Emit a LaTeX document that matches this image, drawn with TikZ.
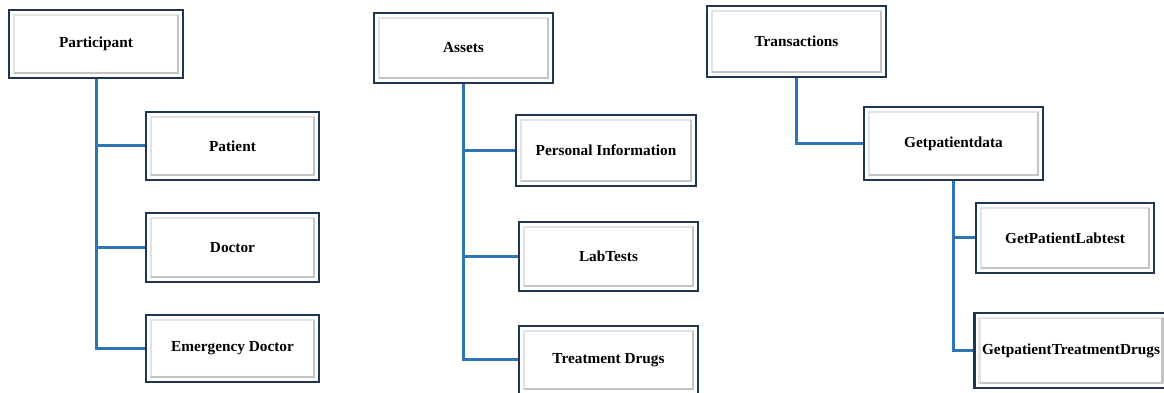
\documentclass[tikz,border=0pt]{standalone}
\usepackage{fontspec}
\setmainfont{Liberation Serif}
\definecolor{navy}{HTML}{1F3550}
\definecolor{linkblue}{HTML}{2E75B6}
\definecolor{bevel}{HTML}{E2E2E2}
\definecolor{beveldark}{HTML}{C4C4C4}
\tikzset{
  box/.style={draw=navy, line width=2.6pt, fill=white, inner sep=0pt,
    font=\fontsize{15.3}{18}\selectfont\bfseries, text=black,
    path picture={
      \draw[bevel, line width=2.4pt]
        ([shift={(5pt,5pt)}]path picture bounding box.south west) rectangle
        ([shift={(-5pt,-5pt)}]path picture bounding box.north east);
      \draw[beveldark, line width=2.4pt]
        ([shift={(5pt,5pt)}]path picture bounding box.south west) --
        ([shift={(-5pt,5pt)}]path picture bounding box.south east) --
        ([shift={(-5pt,-5pt)}]path picture bounding box.north east);
    }},
  link/.style={draw=linkblue, line width=3pt}
}
\begin{document}
\begin{tikzpicture}[x=1pt,y=1pt]
\useasboundingbox (0,0) rectangle (1164,393);
\clip (0,0) rectangle (1164,393);
% column 1
\node[box, minimum width=174pt, minimum height=68pt] (part) at (96,349) {Participant};
\node[box, minimum width=173pt, minimum height=68pt] (pat) at (232.5,247) {Patient};
\node[box, minimum width=173pt, minimum height=69pt] (doc) at (232.5,145.5) {Doctor};
\node[box, minimum width=173pt, minimum height=67pt] (emd) at (232.5,44.5) {Emergency Doctor};
% column 2
\node[box, minimum width=179pt, minimum height=70pt] (ast) at (463.5,345) {Assets};
\node[box, minimum width=180pt, minimum height=71pt] (pinf) at (606,242.5) {Personal Information};
\node[box, minimum width=179pt, minimum height=69pt] (lab) at (608.5,136.5) {LabTests};
\node[box, minimum width=179pt, minimum height=68pt] (trd) at (608.5,33) {Treatment Drugs};
% column 3
\node[box, minimum width=179pt, minimum height=71pt] (trn) at (796.5,351.5) {Transactions};
\node[box, minimum width=179pt, minimum height=73pt] (gpd) at (953.5,249.5) {Getpatientdata};
\node[box, minimum width=178pt, minimum height=70pt] (gpl) at (1065,155) {GetPatientLabtest};
\node[box, minimum width=193pt, minimum height=75pt] (gpt) at (1071,42.5) {GetpatientTreatmentDrugs};
% connectors
\draw[link] (part.south) -- (part.south |- emd.west) -- (emd.west);
\draw[link] (part.south |- pat.west) -- (pat.west);
\draw[link] (part.south |- doc.west) -- (doc.west);
\draw[link] (ast.south) -- (ast.south |- trd.west) -- (trd.west);
\draw[link] (ast.south |- pinf.west) -- (pinf.west);
\draw[link] (ast.south |- lab.west) -- (lab.west);
\draw[link] (trn.south) -- (trn.south |- gpd.west) -- (gpd.west);
\draw[link] (gpd.south) -- (gpd.south |- gpt.west) -- (gpt.west);
\draw[link] (gpd.south |- gpl.west) -- (gpl.west);
\end{tikzpicture}
\end{document}
